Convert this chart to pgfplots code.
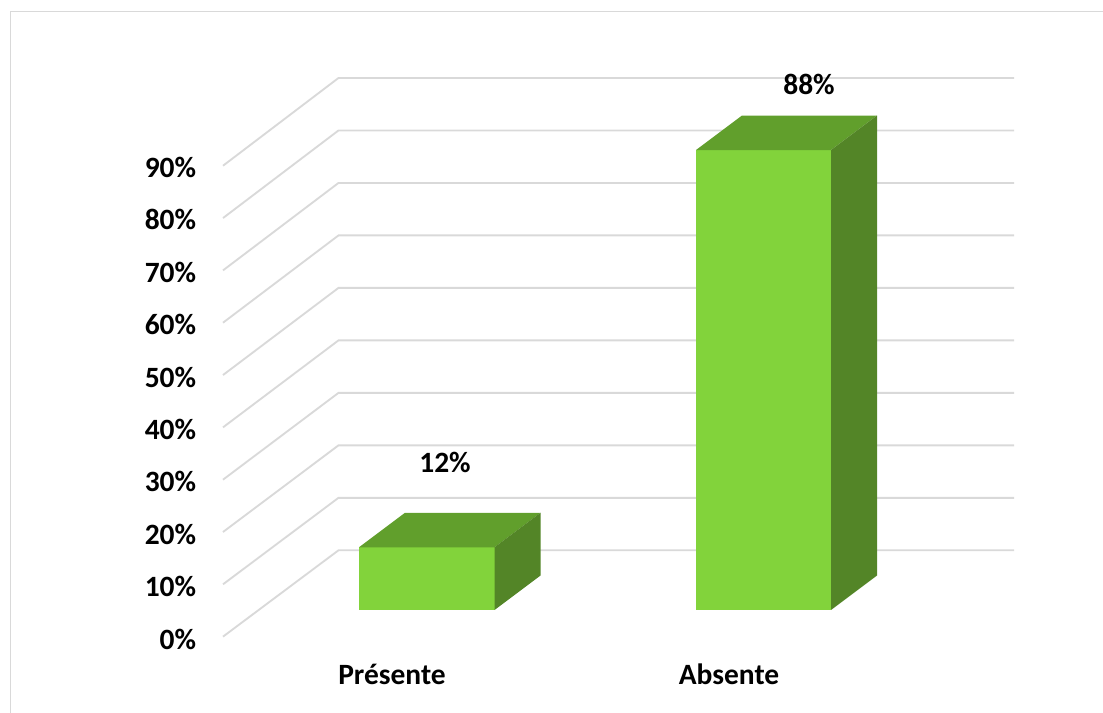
\documentclass[border=0pt]{standalone}
\usepackage{pgfplots}
\pgfplotsset{compat=1.18}
\usepackage{fontspec}
\setmainfont{Carlito}
\definecolor{gridgray}{HTML}{D9D9D9}
\definecolor{barfront}{HTML}{82D33B}
\definecolor{bartop}{HTML}{619F2C}
\definecolor{barside}{HTML}{538527}
\begin{document}
\begin{tikzpicture}
\begin{axis}[
  scale only axis,
  width=827.25pt, height=534.75pt,
  xmin=0, xmax=1103,
  ymin=-19.705, ymax=116.70,
  axis line style={draw=none},
  tick style={draw=none},
  major tick length=0pt,
  unbounded coords=jump,
  font=\fontsize{22.1}{26}\selectfont\bfseries,
  xtick={392,729},
  xticklabels={Présente,Absente},
  xticklabel style={anchor=center, yshift=29pt},
  ytick={-5.58,4.45,14.48,24.51,34.54,44.57,54.60,64.63,74.66,84.69},
  yticklabels={0\%,10\%,20\%,30\%,40\%,50\%,60\%,70\%,80\%,90\%},
  yticklabel style={anchor=east, inner sep=0pt, xshift=147.3pt},
]
% frame: left and top edges only
\addplot[gridgray, line width=1.4pt] coordinates {(10.5,-19.705) (10.5,114.5) (1103,114.5)};
% floor edge and back wall of each gridline
\addplot[gridgray, line width=1.4pt, line join=miter] table {
223 -5.10
338.5 11.42
1014 11.42
nan nan
223 4.91
338.5 21.46
1014 21.46
nan nan
223 14.92
338.5 31.50
1014 31.50
nan nan
223 24.93
338.5 41.54
1014 41.54
nan nan
223 34.94
338.5 51.58
1014 51.58
nan nan
223 44.95
338.5 61.62
1014 61.62
nan nan
223 54.96
338.5 71.66
1014 71.66
nan nan
223 64.97
338.5 81.70
1014 81.70
nan nan
223 74.98
338.5 91.74
1014 91.74
nan nan
223 84.99
338.5 101.78
1014 101.78
};
% Présente, 12 %
\addplot[fill=barfront, draw=none] coordinates {(359,0) (494.5,0) (494.5,12) (359,12)} --cycle;
\addplot[fill=bartop, draw=none] coordinates {(359,12) (494.5,12) (540.5,18.6) (405,18.6)} --cycle;
\addplot[fill=barside, draw=none] coordinates {(494.5,0) (540.5,6.6) (540.5,18.6) (494.5,12)} --cycle;
% Absente, 88 %
\addplot[fill=barfront, draw=none] coordinates {(696,0) (831,0) (831,88) (696,88)} --cycle;
\addplot[fill=bartop, draw=none] coordinates {(696,88) (831,88) (877,94.6) (742,94.6)} --cycle;
\addplot[fill=barside, draw=none] coordinates {(831,0) (877,6.6) (877,94.6) (831,88)} --cycle;
% value labels
\node[anchor=center] at (axis cs:445,28.15) {12\%};
\node[anchor=center] at (axis cs:809,100.5) {88\%};
\end{axis}
\end{tikzpicture}
\end{document}
